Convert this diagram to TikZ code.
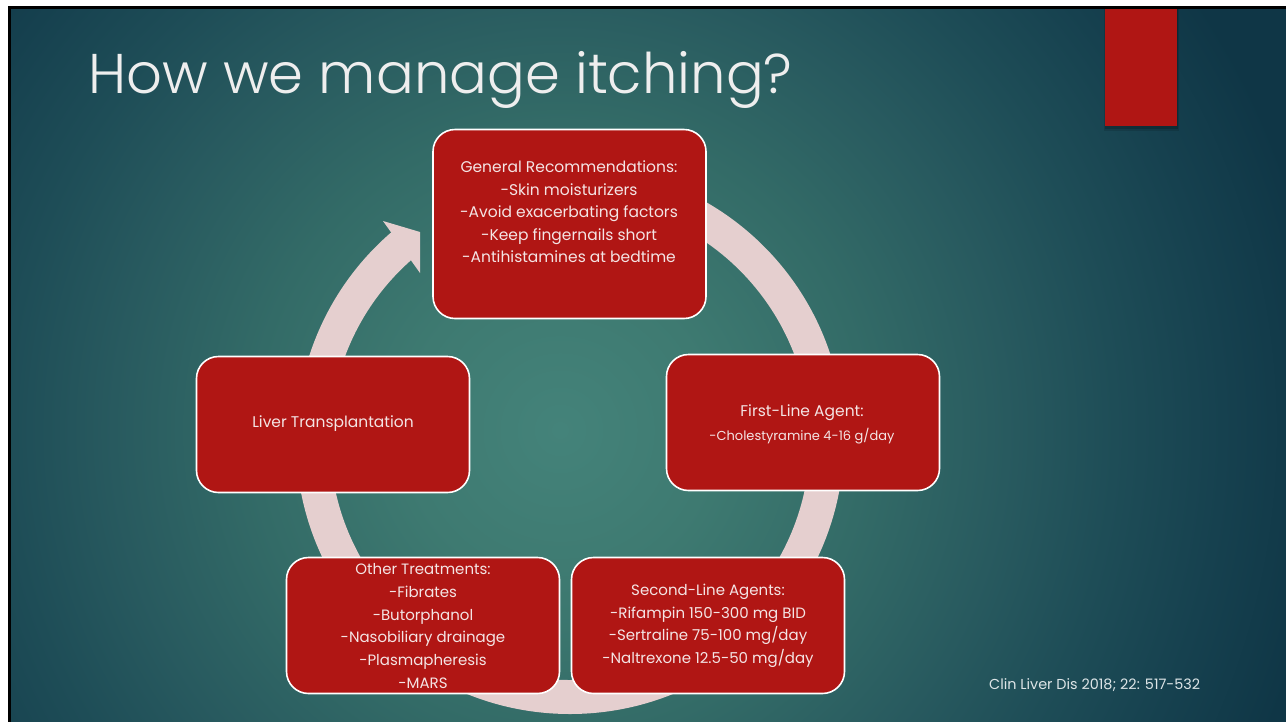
\documentclass[tikz,border=0pt]{standalone}
\usepackage{fontspec}
\setmainfont{Poppins}
\newfontfamily\titlefont{Poppins Light}
\usetikzlibrary{calc}

% palette
\definecolor{slidered}{HTML}{B01614}
\definecolor{ringpink}{HTML}{E5CFCF}
\definecolor{boxtext}{HTML}{F4E4E4}
\definecolor{titlegrey}{HTML}{EEEEEE}
\definecolor{citegrey}{HTML}{DDE5E7}
\definecolor{bgA}{HTML}{44837A}
\definecolor{bgB}{HTML}{3E7A71}
\definecolor{bgC}{HTML}{336B67}
\definecolor{bgD}{HTML}{285A5F}
\definecolor{bgE}{HTML}{1E4D57}
\definecolor{bgF}{HTML}{16414F}
\definecolor{bgG}{HTML}{0F3646}

% teal backdrop, light in the middle and dark towards the edges
% (the inner 25bp of the shading is what fills the shaded circle)
\pgfdeclareradialshading{slidebg}{\pgfpoint{0bp}{0bp}}{%
  color(0bp)=(bgA); color(5bp)=(bgB); color(10bp)=(bgC); color(14.5bp)=(bgD);
  color(18bp)=(bgE); color(21.5bp)=(bgF); color(25bp)=(bgG); color(50bp)=(bgG)}

\tikzset{
  stepbox/.style={draw=white, line width=1.6pt, fill=slidered,
    rounded corners=22pt, inner sep=0pt, minimum width=273pt},
  boxlabel/.style={text=boxtext, align=center, inner sep=0pt},
}

\begin{document}
\begin{tikzpicture}[x=1pt, y=-1pt]
  \useasboundingbox (0,0) rectangle (1286,721);
  \fill[white] (-4,-4) rectangle (1292,727);
  \fill[black] (8,6) rectangle (1292,727);
  \begin{scope}
    \clip (11,9) rectangle (1292,727);
    \fill[bgG] (11,9) rectangle (1292,727);
    \shade[shading=slidebg] (560,430) circle (770);
  \end{scope}

  % accent bar with its soft shadow
  \fill[black, opacity=.12] (1104,9) rectangle (1179,131);
  \fill[black, opacity=.18] (1105,9) rectangle (1178,129);
  \fill[slidered] (1105,9) rectangle (1177,126);

  % title
  \node[anchor=base west, inner sep=0pt, text=titlegrey,
        font=\titlefont\fontsize{56}{62}\selectfont] (title) at (88,93)
        {How we manage itching?};

  % cycle ring with its arrow head
  \coordinate (ctr) at (570,440);
  \fill[ringpink] ($(ctr)+(-90:274)$) arc[start angle=-90, end angle=231, radius=274]
     -- ($(ctr)+(231:240)$) arc[start angle=231, end angle=-90, radius=240] -- cycle;
  \fill[ringpink] (383,221) -- (420,232) -- (420,273) -- cycle;

  % boxes
  \node[stepbox, minimum height=189pt] (gen)    at (569.5,224) {};
  \node[stepbox, minimum height=136pt] (first)  at (803,422.5) {};
  \node[stepbox, minimum height=136pt] (second) at (708,625.5) {};
  \node[stepbox, minimum height=136pt] (other)  at (423,625.5) {};
  \node[stepbox, minimum height=136pt] (liver)  at (333,424.5) {};

  % box texts
  \node[boxlabel, font=\fontsize{15.5}{22.5}\selectfont] (gentext) at (569,212)
    {General Recommendations:\\-Skin moisturizers\\-Avoid exacerbating factors\\
     -Keep fingernails short\\-Antihistamines at bedtime};
  \node[boxlabel, font=\fontsize{15.5}{24}\selectfont] (firsttext) at (802,424)
    {First-Line Agent:\\{\fontsize{13}{24}\selectfont -Cholestyramine 4-16 g/day}};
  \node[boxlabel, font=\fontsize{15}{22.5}\selectfont] (secondtext) at (708,626)
    {Second-Line Agents:\\-Rifampin 150-300 mg BID\\-Sertraline 75-100 mg/day\\
     -Naltrexone 12.5-50 mg/day};
  \node[boxlabel, font=\fontsize{15}{22.8}\selectfont] (othertext) at (423,626)
    {Other Treatments:\\-Fibrates\\-Butorphanol\\-Nasobiliary drainage\\
     -Plasmapheresis\\-MARS};
  \node[boxlabel, font=\fontsize{15.5}{20}\selectfont] (livertext) at (333,423.5)
    {Liver Transplantation};

  % reference
  \node[anchor=base west, inner sep=0pt, text=citegrey,
        font=\fontsize{14.4}{18}\selectfont] (cite) at (989,689)
        {Clin Liver Dis 2018; 22: 517-532};
\end{tikzpicture}
\end{document}
